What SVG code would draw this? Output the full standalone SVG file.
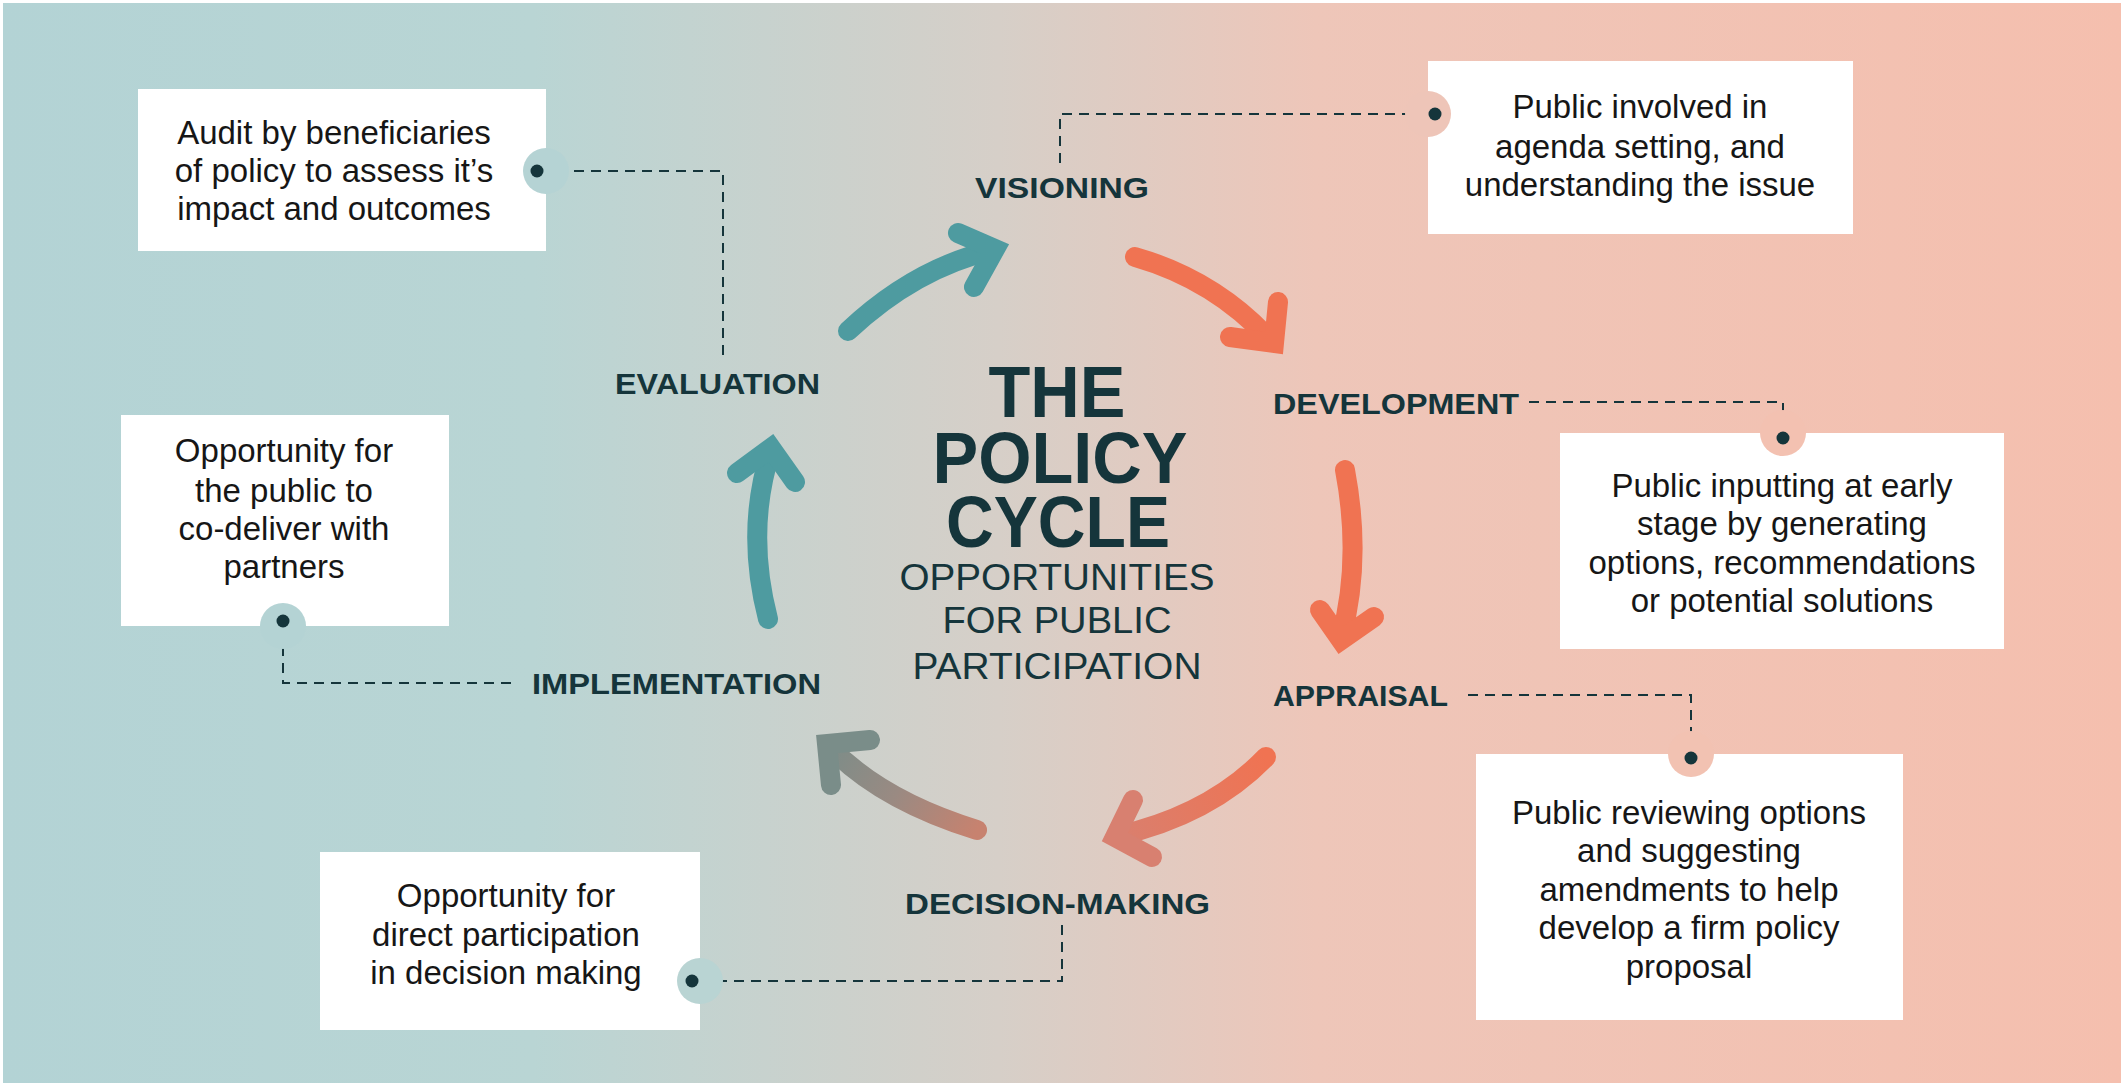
<svg xmlns="http://www.w3.org/2000/svg" width="2124" height="1086" viewBox="0 0 2124 1086">
  <defs>
    <linearGradient id="bg" x1="0" y1="0" x2="1" y2="0">
      <stop offset="0" stop-color="#b3d3d5"/>
      <stop offset="0.25" stop-color="#b9d5d4"/>
      <stop offset="0.47" stop-color="#d6cfc8"/>
      <stop offset="0.62" stop-color="#eec6b9"/>
      <stop offset="1" stop-color="#f5bfae"/>
    </linearGradient>
    <linearGradient id="g4" gradientUnits="userSpaceOnUse" x1="1266" y1="757" x2="1110" y2="840">
      <stop offset="0" stop-color="#f07352"/>
      <stop offset="1" stop-color="#d88070"/>
    </linearGradient>
    <linearGradient id="g5" gradientUnits="userSpaceOnUse" x1="977" y1="830" x2="825" y2="742">
      <stop offset="0" stop-color="#c7826f"/>
      <stop offset="0.5" stop-color="#9a8a82"/>
      <stop offset="1" stop-color="#7a8d89"/>
    </linearGradient>
    <style>
      .box { fill: #ffffff; }
      .btxt { font-family: "Liberation Sans", Arial, sans-serif; font-size: 33px; fill: #161616; text-anchor: middle; }
      .stage { font-family: "Liberation Sans", Arial, sans-serif; font-size: 30px; font-weight: bold; fill: #15353b; }
      .big { font-family: "Liberation Sans", Arial, sans-serif; fill: #15353b; text-anchor: middle; font-size: 56px; font-weight: bold; }
      .sub { font-family: "Liberation Sans", Arial, sans-serif; fill: #15353b; text-anchor: middle; font-size: 36px; }
      .dash { fill: none; stroke: #15353b; stroke-width: 2; stroke-dasharray: 10 7; }
      .dot { fill: #15353b; }
      .arr { fill: none; stroke-width: 20; stroke-linecap: round; stroke-linejoin: miter; }
      .teal { stroke: #4e9ba0; }
      .orange { stroke: #f07352; }
    </style>
  </defs>

  <rect x="0" y="0" width="2124" height="1086" fill="#ffffff"/>
  <rect x="3" y="3" width="2118" height="1080" fill="url(#bg)"/>

  <!-- cycle arrows -->
  <g id="cycle-arrows">
    <path class="arr teal" d="M848,331 Q915,268 993,250"/>
    <path class="arr teal" d="M958,233 L995,249 L974,287"/>
    <path class="arr orange" d="M1135,257 Q1215,280 1270,340"/>
    <path class="arr orange" d="M1278,302 L1274,343 L1230,337"/>
    <path class="arr orange" d="M1345,470 Q1362,560 1341,638"/>
    <path class="arr orange" d="M1320,610 L1341,640 L1374,617"/>
    <path class="arr" stroke="url(#g4)" d="M1266,757 Q1210,815 1117,836"/>
    <path class="arr" stroke="#d88070" d="M1133,800 L1115,837 L1152,857"/>
    <path class="arr" stroke="url(#g5)" d="M977,830 Q880,800 829,746"/>
    <path class="arr" stroke="#7a8d89" d="M870,740 L827,744 L831,785"/>
    <path class="arr teal" d="M768,619 Q745,530 771,450"/>
    <path class="arr teal" d="M737,473 L771,448 L795,482"/>
  </g>

  <!-- dashed connectors -->
  <g id="connectors">
    <path class="dash" d="M723,355 L723,171 L537,171"/>
    <path class="dash" d="M1060,163 L1060,114 L1435,114"/>
    <path class="dash" d="M1529,402 L1783,402 L1783,437"/>
    <path class="dash" d="M1468,695 L1691,695 L1691,757"/>
    <path class="dash" d="M1062,925 L1062,981 L692,981"/>
    <path class="dash" d="M511,683 L283,683 L283,622"/>
  </g>

  <!-- title -->
  <g id="title">
    <text class="big" transform="translate(1057,417) scale(1,1.29)" x="0" y="0" textLength="137" lengthAdjust="spacingAndGlyphs">THE</text>
    <text class="big" transform="translate(1060,483) scale(1,1.29)" x="0" y="0" textLength="255" lengthAdjust="spacingAndGlyphs">POLICY</text>
    <text class="big" transform="translate(1058,547) scale(1,1.29)" x="0" y="0" textLength="224" lengthAdjust="spacingAndGlyphs">CYCLE</text>
    <text class="sub" x="1057" y="590" textLength="315" lengthAdjust="spacingAndGlyphs">OPPORTUNITIES</text>
    <text class="sub" x="1057" y="633" textLength="229" lengthAdjust="spacingAndGlyphs">FOR PUBLIC</text>
    <text class="sub" x="1057" y="679" textLength="289" lengthAdjust="spacingAndGlyphs">PARTICIPATION</text>
  </g>

  <!-- stage labels -->
  <g id="visioning"><text class="stage" x="975" y="198" textLength="174" lengthAdjust="spacingAndGlyphs">VISIONING</text></g>
  <g id="development"><text class="stage" x="1273" y="414" textLength="246" lengthAdjust="spacingAndGlyphs">DEVELOPMENT</text></g>
  <g id="appraisal"><text class="stage" x="1273" y="706" textLength="175" lengthAdjust="spacingAndGlyphs">APPRAISAL</text></g>
  <g id="decision-making"><text class="stage" x="905" y="914" textLength="305" lengthAdjust="spacingAndGlyphs">DECISION-MAKING</text></g>
  <g id="implementation"><text class="stage" x="532" y="694" textLength="289" lengthAdjust="spacingAndGlyphs">IMPLEMENTATION</text></g>
  <g id="evaluation"><text class="stage" x="615" y="394" textLength="205" lengthAdjust="spacingAndGlyphs">EVALUATION</text></g>

  <!-- info boxes -->
  <g id="box-evaluation">
    <rect class="box" x="138" y="89" width="408" height="162"/>
    <circle cx="546" cy="171" r="23" fill="#b5d3d4"/>
    <circle class="dot" cx="537" cy="171" r="6.5"/>
    <text class="btxt" x="334" y="144">Audit by beneficiaries</text>
    <text class="btxt" x="334" y="182">of policy to assess it’s</text>
    <text class="btxt" x="334" y="220">impact and outcomes</text>
  </g>

  <g id="box-visioning">
    <rect class="box" x="1428" y="61" width="425" height="173"/>
    <circle cx="1428" cy="114" r="23" fill="#eec5b8"/>
    <circle class="dot" cx="1435" cy="114" r="6.5"/>
    <text class="btxt" x="1640" y="118">Public involved in</text>
    <text class="btxt" x="1640" y="158">agenda setting, and</text>
    <text class="btxt" x="1640" y="196">understanding the issue</text>
  </g>

  <g id="box-development">
    <rect class="box" x="1560" y="433" width="444" height="216"/>
    <circle cx="1783" cy="433" r="23" fill="#f3c1b1"/>
    <circle class="dot" cx="1783" cy="438" r="6.5"/>
    <text class="btxt" x="1782" y="497">Public inputting at early</text>
    <text class="btxt" x="1782" y="535">stage by generating</text>
    <text class="btxt" x="1782" y="574">options, recommendations</text>
    <text class="btxt" x="1782" y="612">or potential solutions</text>
  </g>

  <g id="box-appraisal">
    <rect class="box" x="1476" y="754" width="427" height="266"/>
    <circle cx="1691" cy="754" r="23" fill="#f2c2b2"/>
    <circle class="dot" cx="1691" cy="758" r="6.5"/>
    <text class="btxt" x="1689" y="824">Public reviewing options</text>
    <text class="btxt" x="1689" y="862">and suggesting</text>
    <text class="btxt" x="1689" y="901">amendments to help</text>
    <text class="btxt" x="1689" y="939">develop a firm policy</text>
    <text class="btxt" x="1689" y="978">proposal</text>
  </g>

  <g id="box-decision-making">
    <rect class="box" x="320" y="852" width="380" height="178"/>
    <circle cx="700" cy="981" r="23" fill="#b9d4d3"/>
    <circle class="dot" cx="692" cy="981" r="6.5"/>
    <text class="btxt" x="506" y="907">Opportunity for</text>
    <text class="btxt" x="506" y="946">direct participation</text>
    <text class="btxt" x="506" y="984">in decision making</text>
  </g>

  <g id="box-implementation">
    <rect class="box" x="121" y="415" width="328" height="211"/>
    <circle cx="283" cy="626" r="23" fill="#b4d3d4"/>
    <circle class="dot" cx="283" cy="621" r="6.5"/>
    <text class="btxt" x="284" y="462">Opportunity for</text>
    <text class="btxt" x="284" y="502">the public to</text>
    <text class="btxt" x="284" y="540">co-deliver with</text>
    <text class="btxt" x="284" y="578">partners</text>
  </g>
</svg>
